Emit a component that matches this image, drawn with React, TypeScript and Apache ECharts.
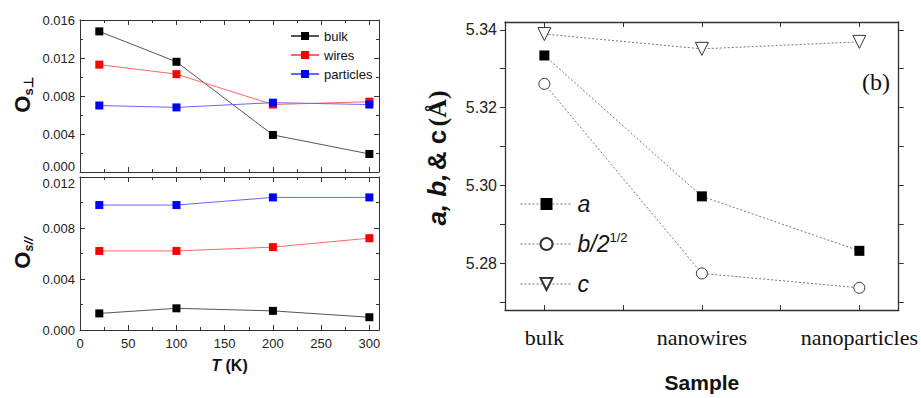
import React, { useEffect, useRef } from "react";
import * as echarts from "echarts";

const temps = [20, 100, 200, 300];
const perpBulk = [0.0148, 0.0116, 0.0039, 0.0019];
const perpWires = [0.0113, 0.0103, 0.0071, 0.0074];
const perpParticles = [0.007, 0.0068, 0.0073, 0.0071];
const parBulk = [0.0013, 0.0017, 0.0015, 0.001];
const parWires = [0.0062, 0.0062, 0.0065, 0.0072];
const parParticles = [0.0098, 0.0098, 0.0104, 0.0104];
const xTickLabels = [0, 50, 100, 150, 200, 250, 300];

const samples = ["bulk", "nanowires", "nanoparticles"];
const aVals = [5.3334, 5.2972, 5.2832];
const bVals = [5.3261, 5.2774, 5.2737];
const cVals = [5.3389, 5.3351, 5.3369];
const rightYLabels = [5.28, 5.3, 5.32, 5.34];
const rightYTicks = [5.27, 5.28, 5.29, 5.3, 5.31, 5.32, 5.33, 5.34];

const SANS = "Liberation Sans";
const SERIF = "Liberation Serif";

export default function App() {
  const ref = useRef<HTMLDivElement>(null);
  useEffect(() => {
    if (!ref.current) return;
    const chart = echarts.init(ref.current, null, { renderer: "svg" });
    const axisLineL = { show: true, onZero: false, lineStyle: { color: "#333", width: 1 } };
    const axisLineR = { show: true, onZero: false, lineStyle: { color: "#333", width: 1.3 } };

    const leftX = (grid: number, pos: string, labels: boolean, name?: any) => ({
      type: "value",
      gridIndex: grid,
      position: pos,
      min: 0,
      max: 310,
      interval: 50,
      axisLine: axisLineL,
      axisTick: { show: true, inside: true, length: 5, lineStyle: { color: "#333" } },
      minorTick: { show: true, splitNumber: 2, length: 3, lineStyle: { color: "#333" } },
      splitLine: { show: false },
      axisLabel: {
        show: labels,
        margin: 7,
        fontFamily: SANS,
        fontSize: 13,
        color: "#222",
        customValues: xTickLabels,
        formatter: (v: number) => String(v),
      },
      ...(name || {}),
    });
    const leftY = (grid: number, pos: string, labels: boolean, max: number) => ({
      type: "value",
      gridIndex: grid,
      position: pos,
      min: 0,
      max,
      interval: 0.004,
      axisLine: axisLineL,
      axisTick: { show: true, inside: true, length: 5, lineStyle: { color: "#333" } },
      minorTick: { show: true, splitNumber: 2, length: 3, lineStyle: { color: "#333" } },
      splitLine: { show: false },
      axisLabel: {
        show: labels,
        margin: 5,
        fontFamily: SANS,
        fontSize: 13,
        color: "#222",
        formatter: (v: number) => {
          const s = v.toFixed(3);
          if (grid === 0 && Math.abs(v) < 1e-9) return "{lo|" + s + "}";
          if (grid === 1 && Math.abs(v - max) < 1e-9) return "{hi|" + s + "}";
          return s;
        },
        rich: {
          lo: { fontFamily: SANS, fontSize: 13, color: "#222", padding: [0, 0, 12, 0] },
          hi: { fontFamily: SANS, fontSize: 13, color: "#222", padding: [12, 0, 0, 0] },
        },
      },
    });

    const mk = (name: string, xi: number, vals: number[], color: string, line: string) => ({
      name,
      type: "line",
      xAxisIndex: xi,
      yAxisIndex: xi,
      data: temps.map((t, i) => [t, vals[i]]),
      symbol: "rect",
      symbolSize: 8,
      itemStyle: { color },
      lineStyle: { color: line, width: 1 },
    });

    const rightLine = { color: "#777", width: 1, type: [2, 2] };

    chart.setOption({
      animation: false,
      backgroundColor: "#fff",
      grid: [
        { left: 80, top: 20, width: 299, height: 152 },
        { left: 80, top: 177, width: 299, height: 153 },
        { left: 505, top: 22, width: 402, height: 291 },
      ],
      xAxis: [
        leftX(0, "bottom", false),
        leftX(0, "top", false),
        leftX(1, "bottom", true, {
          name: "{i|T} (K)",
          nameLocation: "middle",
          nameGap: 27,
          nameTextStyle: {
            fontFamily: SANS,
            fontSize: 16,
            fontWeight: "bold",
            color: "#111",
            rich: { i: { fontFamily: SANS, fontSize: 16, fontWeight: "bold", fontStyle: "italic", color: "#111" } },
          },
        }),
        leftX(1, "top", false),
        {
          type: "value",
          gridIndex: 2,
          position: "bottom",
          min: -0.25,
          max: 2.25,
          axisLine: axisLineR,
          axisTick: { show: true, inside: true, length: 5, customValues: [0, 0.5, 1, 1.5, 2], lineStyle: { color: "#333" } },
          splitLine: { show: false },
          axisLabel: {
            customValues: [0, 1, 2],
            formatter: (v: number) => samples[Math.round(v)],
            fontFamily: SERIF,
            fontSize: 22,
            color: "#111",
            margin: 16,
          },
          name: "Sample",
          nameLocation: "middle",
          nameGap: 62,
          nameTextStyle: { fontFamily: SANS, fontSize: 21, fontWeight: "bold", color: "#111" },
        },
        {
          type: "value",
          gridIndex: 2,
          position: "top",
          min: -0.25,
          max: 2.25,
          axisLine: axisLineR,
          axisTick: { show: true, inside: true, length: 5, customValues: [0, 0.5, 1, 1.5, 2], lineStyle: { color: "#333" } },
          splitLine: { show: false },
          axisLabel: { show: false },
        },
      ],
      yAxis: [
        leftY(0, "left", true, 0.016),
        leftY(0, "right", false, 0.016),
        leftY(1, "left", true, 0.012),
        leftY(1, "right", false, 0.012),
        {
          type: "value",
          gridIndex: 2,
          position: "left",
          min: 5.268,
          max: 5.342,
          axisLine: axisLineR,
          axisTick: { show: true, inside: false, length: 5, customValues: rightYTicks, lineStyle: { color: "#333" } },
          splitLine: { show: false },
          axisLabel: {
            customValues: rightYLabels,
            formatter: (v: number) => v.toFixed(2),
            fontFamily: SANS,
            fontSize: 16,
            color: "#222",
            margin: 8,
          },
        },
        {
          type: "value",
          gridIndex: 2,
          position: "right",
          min: 5.268,
          max: 5.342,
          axisLine: axisLineR,
          axisTick: { show: true, inside: false, length: 5, customValues: rightYTicks, lineStyle: { color: "#333" } },
          splitLine: { show: false },
          axisLabel: { show: false },
        },
      ],
      legend: [
        {
          data: ["bulk", "wires", "particles"],
          orient: "vertical",
          left: 290,
          top: 29,
          padding: 0,
          itemWidth: 28,
          itemHeight: 10,
          itemGap: 5,
          textStyle: { fontFamily: SANS, fontSize: 13, color: "#111", lineHeight: 14 },
        },
        {
          data: ["a", "b", "c"],
          orient: "vertical",
          left: 520,
          top: 191,
          padding: 0,
          itemWidth: 52,
          itemHeight: 15,
          itemGap: 14,
          lineStyle: { color: "#777", width: 1, type: [2, 2] },
          formatter: (n: string) => (n === "b" ? "{i|b/2}{sup|1/2}" : "{i|" + n + "}"),
          textStyle: {
            fontFamily: SANS,
            fontSize: 22,
            color: "#111",
            lineHeight: 26,
            rich: {
              i: { fontFamily: SANS, fontSize: 23, fontStyle: "italic", color: "#111", lineHeight: 26 },
              sup: { fontFamily: SANS, fontSize: 13, color: "#111", lineHeight: 12, verticalAlign: "top" },
            },
          },
        },
      ],
      graphic: [
        {
          type: "text",
          x: 22,
          y: 95,
          rotation: Math.PI / 2,
          style: {
            text: "{o|O}{s|s⊥}",
            align: "center",
            verticalAlign: "middle",
            rich: {
              o: { fontFamily: SANS, fontSize: 22, fontWeight: "bold", fill: "#111", lineHeight: 26 },
              s: { fontFamily: SANS, fontSize: 13, fontWeight: "bold", fill: "#111", lineHeight: 14, verticalAlign: "bottom" },
            },
          },
        },
        {
          type: "text",
          x: 22,
          y: 253,
          rotation: Math.PI / 2,
          style: {
            text: "{o|O}{s|s//}",
            align: "center",
            verticalAlign: "middle",
            rich: {
              o: { fontFamily: SANS, fontSize: 22, fontWeight: "bold", fill: "#111", lineHeight: 26 },
              s: { fontFamily: SANS, fontSize: 13, fontWeight: "bold", fontStyle: "italic", fill: "#111", lineHeight: 14, verticalAlign: "bottom" },
            },
          },
        },
        {
          type: "text",
          x: 437,
          y: 158,
          rotation: Math.PI / 2,
          style: {
            text: "{i|a, b,} {n|& c} {p|(Å)}",
            align: "center",
            verticalAlign: "middle",
            rich: {
              i: { fontFamily: SANS, fontSize: 26, fontWeight: "bold", fontStyle: "italic", fill: "#111" },
              n: { fontFamily: SANS, fontSize: 26, fontWeight: "bold", fill: "#111" },
              p: { fontFamily: SERIF, fontSize: 26, fontWeight: "bold", fill: "#111" },
            },
          },
        },
        {
          type: "text",
          x: 876,
          y: 82,
          style: {
            text: "(b)",
            align: "center",
            verticalAlign: "middle",
            fontFamily: SERIF,
            fontSize: 24,
            fill: "#111",
          },
        },
      ],
      series: [
        mk("bulk", 0, perpBulk, "#000", "#555"),
        mk("wires", 0, perpWires, "#f00", "#f66"),
        mk("particles", 0, perpParticles, "#00f", "#66f"),
        mk("bulk", 2, parBulk, "#000", "#555"),
        mk("wires", 2, parWires, "#f00", "#f66"),
        mk("particles", 2, parParticles, "#00f", "#66f"),
        {
          name: "a",
          type: "line",
          xAxisIndex: 4,
          yAxisIndex: 4,
          data: samples.map((_, i) => [i, aVals[i]]),
          symbol: "rect",
          symbolSize: 10,
          itemStyle: { color: "#000" },
          lineStyle: rightLine,
        },
        {
          name: "b",
          type: "line",
          xAxisIndex: 4,
          yAxisIndex: 4,
          data: samples.map((_, i) => [i, bVals[i]]),
          symbol: "circle",
          symbolSize: 11,
          itemStyle: { color: "#fff", borderColor: "#333", borderWidth: 1 },
          lineStyle: rightLine,
        },
        {
          name: "c",
          type: "line",
          xAxisIndex: 4,
          yAxisIndex: 4,
          data: samples.map((_, i) => [i, cVals[i]]),
          symbol: "triangle",
          symbolRotate: 180,
          symbolSize: 13,
          itemStyle: { color: "#fff", borderColor: "#333", borderWidth: 1 },
          lineStyle: rightLine,
        },
      ],
    });
    return () => chart.dispose();
  }, []);
  return <div ref={ref} style={{ position: "absolute", left: 0, top: 0, width: 921, height: 398 }} />;
}
